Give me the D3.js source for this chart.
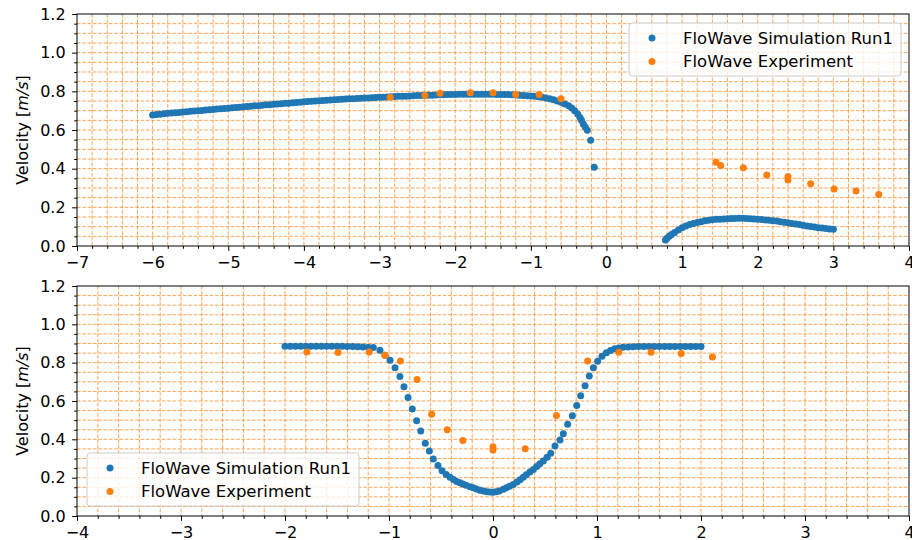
<!DOCTYPE html>
<html lang="en">
<head>
    <meta charset="UTF-8">
    <title>FloWave velocity profiles</title>
    <script src="https://cdnjs.cloudflare.com/ajax/libs/d3/7.8.5/d3.min.js"></script>
    <style>
        body { margin: 0; background: #fff; }
        .axis path { display: none; }
        .axis line { stroke: #000; stroke-width: 1; }
        .axis text { font-family: "DejaVu Sans", sans-serif; font-size: 16px; fill: #000; }
        .grid line { stroke: #ff7f0e; stroke-opacity: 0.7; stroke-width: 1; stroke-dasharray: 3.7,1.6; }
        .legend text { font-family: "DejaVu Sans", sans-serif; font-size: 16.5px; fill: #000; }
    </style>
</head>
<body>
    <script type="text/javascript">
        const width = 912;
        const height = 540;

        const seriesNames = ["FloWave Simulation Run1", "FloWave Experiment"];
        const colors = ["#1f77b4", "#ff7f0e"];
        const yTicks = [0.0, 0.2, 0.4, 0.6, 0.8, 1.0, 1.2];
        const topXTicks = [-7, -6, -5, -4, -3, -2, -1, 0, 1, 2, 3, 4];
        const bottomXTicks = [-4, -3, -2, -1, 0, 1, 2, 3, 4];

        // top panel: simulation [x, velocity]
        const topSim = [
            [-6.00, 0.678], [-5.95, 0.680], [-5.90, 0.682], [-5.85, 0.684], [-5.80, 0.686],
            [-5.75, 0.688], [-5.70, 0.689], [-5.65, 0.691], [-5.60, 0.693], [-5.55, 0.695],
            [-5.50, 0.697], [-5.45, 0.698], [-5.40, 0.700], [-5.35, 0.701], [-5.30, 0.703],
            [-5.25, 0.705], [-5.20, 0.706], [-5.15, 0.708], [-5.10, 0.710], [-5.05, 0.711],
            [-5.00, 0.713], [-4.95, 0.715], [-4.90, 0.716], [-4.85, 0.718], [-4.80, 0.720],
            [-4.75, 0.721], [-4.70, 0.723], [-4.65, 0.725], [-4.60, 0.726], [-4.55, 0.728],
            [-4.50, 0.730], [-4.45, 0.731], [-4.40, 0.733], [-4.35, 0.734], [-4.30, 0.736],
            [-4.25, 0.738], [-4.20, 0.739], [-4.15, 0.741], [-4.10, 0.742], [-4.05, 0.744],
            [-4.00, 0.746], [-3.95, 0.747], [-3.90, 0.749], [-3.85, 0.750], [-3.80, 0.751],
            [-3.75, 0.753], [-3.70, 0.754], [-3.65, 0.755], [-3.60, 0.756], [-3.55, 0.758],
            [-3.50, 0.759], [-3.45, 0.760], [-3.40, 0.761], [-3.35, 0.762], [-3.30, 0.763],
            [-3.25, 0.764], [-3.20, 0.765], [-3.15, 0.766], [-3.10, 0.767], [-3.05, 0.768],
            [-3.00, 0.769], [-2.95, 0.770], [-2.90, 0.771], [-2.85, 0.772], [-2.80, 0.773],
            [-2.75, 0.774], [-2.70, 0.774], [-2.65, 0.775], [-2.60, 0.776], [-2.55, 0.777],
            [-2.50, 0.778], [-2.45, 0.778], [-2.40, 0.779], [-2.35, 0.780], [-2.30, 0.780],
            [-2.25, 0.781], [-2.20, 0.782], [-2.15, 0.782], [-2.10, 0.783], [-2.05, 0.784],
            [-2.00, 0.784], [-1.95, 0.785], [-1.90, 0.785], [-1.85, 0.785], [-1.80, 0.785],
            [-1.75, 0.785], [-1.70, 0.785], [-1.65, 0.785], [-1.60, 0.785], [-1.55, 0.785],
            [-1.50, 0.785], [-1.45, 0.784], [-1.40, 0.784], [-1.35, 0.783], [-1.30, 0.783],
            [-1.25, 0.782], [-1.20, 0.781], [-1.15, 0.780], [-1.10, 0.779], [-1.05, 0.777],
            [-1.00, 0.776], [-0.95, 0.774], [-0.90, 0.772], [-0.85, 0.769], [-0.80, 0.766],
            [-0.75, 0.762], [-0.70, 0.756], [-0.65, 0.750], [-0.60, 0.743], [-0.55, 0.735],
            [-0.50, 0.725], [-0.46, 0.714], [-0.42, 0.700], [-0.38, 0.683], [-0.35, 0.665],
            [-0.33, 0.650], [-0.306, 0.631], [-0.28, 0.615], [-0.253, 0.599], [-0.209, 0.547],
            [-0.161, 0.407],
            [0.78, 0.031], [0.80, 0.040], [0.83, 0.050], [0.86, 0.060], [0.90, 0.070],
            [0.95, 0.083], [1.00, 0.095], [1.05, 0.104], [1.10, 0.111], [1.15, 0.117],
            [1.20, 0.122], [1.25, 0.126], [1.30, 0.130], [1.35, 0.133], [1.40, 0.136],
            [1.45, 0.138], [1.50, 0.139], [1.55, 0.140], [1.60, 0.141], [1.65, 0.142],
            [1.70, 0.142], [1.75, 0.143], [1.80, 0.143], [1.85, 0.142], [1.90, 0.141],
            [1.95, 0.140], [2.00, 0.139], [2.05, 0.137], [2.10, 0.135], [2.15, 0.133],
            [2.20, 0.131], [2.25, 0.129], [2.30, 0.126], [2.35, 0.123], [2.40, 0.120],
            [2.45, 0.117], [2.50, 0.114], [2.55, 0.111], [2.60, 0.107], [2.65, 0.104],
            [2.70, 0.101], [2.75, 0.098], [2.80, 0.095], [2.85, 0.093], [2.90, 0.090],
            [2.95, 0.088], [3.00, 0.086]
        ];
        const topExp = [
            [-2.86, 0.769], [-2.40, 0.779], [-2.20, 0.790], [-1.80, 0.793], [-1.50, 0.793],
            [-1.20, 0.783], [-0.89, 0.783], [-0.60, 0.761],
            [1.45, 0.433], [1.51, 0.417], [1.81, 0.405], [2.12, 0.367], [2.40, 0.359],
            [2.40, 0.341], [2.70, 0.322], [3.01, 0.295], [3.30, 0.285], [3.60, 0.267]
        ];

        // bottom panel
        const bottomSim = [
            [-2.00, 0.886], [-1.95, 0.886], [-1.90, 0.886], [-1.85, 0.886], [-1.80, 0.886],
            [-1.75, 0.886], [-1.70, 0.886], [-1.65, 0.886], [-1.60, 0.886], [-1.55, 0.886],
            [-1.50, 0.886], [-1.45, 0.886], [-1.40, 0.885], [-1.35, 0.884], [-1.30, 0.883],
            [-1.25, 0.882], [-1.20, 0.881], [-1.151, 0.879], [-1.087, 0.865], [-1.038, 0.839],
            [-0.99, 0.813], [-0.942, 0.773], [-0.895, 0.728], [-0.856, 0.674], [-0.817, 0.618],
            [-0.776, 0.558], [-0.734, 0.497], [-0.695, 0.443], [-0.651, 0.380], [-0.612, 0.339],
            [-0.574, 0.297], [-0.529, 0.264], [-0.49, 0.236], [-0.45, 0.216], [-0.413, 0.202],
            [-0.38, 0.190], [-0.35, 0.180], [-0.317, 0.174], [-0.29, 0.167], [-0.26, 0.160],
            [-0.221, 0.153], [-0.19, 0.147], [-0.16, 0.141], [-0.125, 0.135], [-0.09, 0.130],
            [-0.06, 0.127], [-0.03, 0.125], [0.00, 0.124], [0.03, 0.126], [0.06, 0.130],
            [0.099, 0.139], [0.13, 0.147], [0.16, 0.155], [0.195, 0.165], [0.23, 0.177],
            [0.26, 0.189], [0.291, 0.202], [0.32, 0.215], [0.355, 0.229], [0.388, 0.243],
            [0.42, 0.258], [0.45, 0.272], [0.484, 0.287], [0.52, 0.306], [0.555, 0.327],
            [0.596, 0.365], [0.644, 0.396], [0.676, 0.429], [0.718, 0.479], [0.763, 0.523],
            [0.805, 0.577], [0.843, 0.627], [0.885, 0.679], [0.926, 0.731], [0.965, 0.773],
            [1.006, 0.808], [1.048, 0.834], [1.09, 0.852], [1.13, 0.864], [1.17, 0.872],
            [1.21, 0.877], [1.25, 0.880], [1.30, 0.882], [1.35, 0.883], [1.40, 0.884],
            [1.45, 0.885], [1.50, 0.885], [1.55, 0.885], [1.60, 0.885], [1.65, 0.885],
            [1.70, 0.885], [1.75, 0.885], [1.80, 0.885], [1.85, 0.885], [1.90, 0.885],
            [1.95, 0.885], [2.00, 0.885]
        ];
        const bottomExp = [
            [-1.79, 0.856], [-1.49, 0.853], [-1.19, 0.856], [-1.04, 0.839], [-0.89, 0.809],
            [-0.73, 0.712], [-0.59, 0.531], [-0.44, 0.450], [-0.29, 0.394], [0.00, 0.361],
            [0.00, 0.344], [0.31, 0.351], [0.61, 0.525], [0.91, 0.809], [1.21, 0.855],
            [1.52, 0.855], [1.81, 0.848], [2.11, 0.830]
        ];

        const svg = d3.select('body')
                        .append('svg')
                        .attr('width', width)
                        .attr('height', height);

        const minus = function(d) {
            return d < 0 ? "\u2212" + Math.abs(d) : String(d);
        };

        function drawPanel(cfg) {
            const xScale = d3.scaleLinear()
                                .domain(cfg.xDomain)
                                .range([cfg.left, cfg.right]);
            const yScale = d3.scaleLinear()
                                .domain([0, 1.2])
                                .range([cfg.bottom, cfg.top]);

            const xMinor = d3.range(Math.round(cfg.xDomain[0] * 5), Math.round(cfg.xDomain[1] * 5) + 1)
                                .map(function(i) { return i / 5; });
            const yMinor = d3.range(0, 25).map(function(i) { return i / 20; });

            // grid
            const grid = svg.append('g').attr('class', 'grid');
            grid.selectAll('line.v')
                .data(xMinor.slice(1, -1))
                .enter()
                .append('line')
                .attr('x1', function(d) { return xScale(d); })
                .attr('x2', function(d) { return xScale(d); })
                .attr('y1', cfg.top)
                .attr('y2', cfg.bottom);
            grid.selectAll('line.h')
                .data(yMinor.slice(1, -1))
                .enter()
                .append('line')
                .attr('x1', cfg.left)
                .attr('x2', cfg.right)
                .attr('y1', function(d) { return yScale(d); })
                .attr('y2', function(d) { return yScale(d); });

            // points
            svg.append('g')
                .selectAll('circle')
                .data(cfg.sim)
                .enter()
                .append('circle')
                .attr('cx', function(d) { return xScale(d[0]); })
                .attr('cy', function(d) { return yScale(d[1]); })
                .attr('r', 3.5)
                .attr('fill', colors[0]);
            svg.append('g')
                .selectAll('circle')
                .data(cfg.exp)
                .enter()
                .append('circle')
                .attr('cx', function(d) { return xScale(d[0]); })
                .attr('cy', function(d) { return yScale(d[1]); })
                .attr('r', 3.5)
                .attr('fill', colors[1]);

            // axes
            const xAxis = d3.axisBottom(xScale)
                            .tickValues(cfg.xTicks)
                            .tickFormat(minus)
                            .tickSize(4.9)
                            .tickPadding(6);
            const xAxisMinor = d3.axisBottom(xScale)
                            .tickValues(xMinor.filter(function(d) { return Math.abs(d - Math.round(d)) > 1e-6; }))
                            .tickFormat('')
                            .tickSize(2.8);
            const yAxis = d3.axisLeft(yScale)
                            .tickValues(yTicks)
                            .tickFormat(d3.format('.1f'))
                            .tickSize(4.9)
                            .tickPadding(6.5);
            const yAxisMinor = d3.axisLeft(yScale)
                            .tickValues(yMinor.filter(function(d) { return Math.abs(d * 5 - Math.round(d * 5)) > 1e-6; }))
                            .tickFormat('')
                            .tickSize(2.8);

            svg.append('g').attr('class', 'axis')
                .attr('transform', 'translate(0,' + cfg.bottom + ')').call(xAxis);
            svg.append('g').attr('class', 'axis')
                .attr('transform', 'translate(0,' + cfg.bottom + ')').call(xAxisMinor);
            svg.append('g').attr('class', 'axis')
                .attr('transform', 'translate(' + cfg.left + ',0)').call(yAxis);
            svg.append('g').attr('class', 'axis')
                .attr('transform', 'translate(' + cfg.left + ',0)').call(yAxisMinor);

            // frame
            svg.append('rect')
                .attr('x', cfg.left)
                .attr('y', cfg.top)
                .attr('width', cfg.right - cfg.left)
                .attr('height', cfg.bottom - cfg.top)
                .attr('fill', 'none')
                .attr('stroke', '#000')
                .attr('stroke-width', 1);

            // y label
            const label = svg.append('text')
                .attr('transform', 'translate(22,' + ((cfg.top + cfg.bottom) / 2) + ') rotate(-90)')
                .attr('text-anchor', 'middle')
                .attr('dominant-baseline', 'central')
                .attr('font-family', '"DejaVu Sans", sans-serif')
                .attr('font-size', '16px');
            label.append('tspan').text('Velocity [');
            label.append('tspan').attr('font-style', 'italic').text('m/s');
            label.append('tspan').text(']');

            // legend
            const lg = svg.append('g').attr('class', 'legend')
                            .attr('transform', 'translate(' + cfg.legend[0] + ',' + cfg.legend[1] + ')');
            lg.append('rect')
                .attr('width', 272)
                .attr('height', 53)
                .attr('rx', 3)
                .attr('fill', '#fff')
                .attr('fill-opacity', 0.8)
                .attr('stroke', '#ccc')
                .attr('stroke-width', 1);
            seriesNames.forEach(function(name, i) {
                lg.append('circle')
                    .attr('cx', 23)
                    .attr('cy', 15 + i * 23.5)
                    .attr('r', 3.5)
                    .attr('fill', colors[i]);
                lg.append('text')
                    .attr('x', 54)
                    .attr('y', 15 + i * 23.5)
                    .attr('dy', '0.35em')
                    .text(name);
            });
        }

        drawPanel({
            xDomain: [-7, 4], xTicks: topXTicks,
            left: 77, right: 909, top: 14, bottom: 246,
            sim: topSim, exp: topExp, legend: [629, 23]
        });
        drawPanel({
            xDomain: [-4, 4], xTicks: bottomXTicks,
            left: 77, right: 909, top: 286, bottom: 516,
            sim: bottomSim, exp: bottomExp, legend: [87, 453]
        });
    </script>
</body>
</html>
